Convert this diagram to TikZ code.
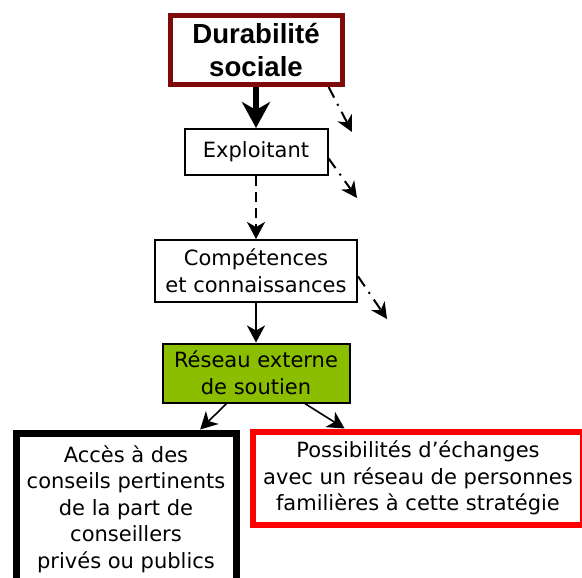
\documentclass[tikz,border=0pt]{standalone}
\usepackage{fontspec}
\setmainfont{DejaVu Sans}
\newfontfamily\titlefont{Liberation Sans}
\usetikzlibrary{arrows.meta}
\definecolor{darkred}{RGB}{128,10,10}
\definecolor{leafgreen}{RGB}{140,190,0}
\begin{document}
\begin{tikzpicture}[x=0.5pt,y=-0.5pt,
  box/.style={draw, align=center, inner sep=0pt, line width=1pt,
    font=\fontsize{10.5}{13.3}\selectfont},
  tip/.style={-{Stealth[length=8.5pt,width=9pt,inset=2.5pt]}, line width=1pt},
  side/.style={-{Stealth[length=8pt,width=8pt,inset=2.5pt]}, line width=1pt,
    dash pattern=on 6pt off 3.5pt on 1pt off 3.5pt}]
\clip (0,0) rectangle (582,577);
\node[box, draw=darkred, line width=2.5pt, minimum width=86pt, minimum height=34.5pt,
  font=\titlefont\fontsize{13.8}{16.5}\selectfont\bfseries] (durable) at (256,50) {Durabilité\\sociale};
\node[box, minimum width=71.5pt, minimum height=23pt] (exploit) at (256,152) {Exploitant};
\node[box, minimum width=101pt, minimum height=31pt] (skills) at (256,271) {Compétences\\et connaissances};
\node[box, fill=leafgreen, minimum width=93.5pt, minimum height=29.5pt] (network) at (256,373) {Réseau externe\\de soutien};
\node[box, line width=3.5pt, minimum width=110pt, minimum height=76pt] (advice) at (126,509) {Accès à des\\conseils pertinents\\de la part de\\conseillers\\privés ou publics};
\node[box, draw=red, line width=3pt, minimum width=165pt, minimum height=46.5pt] (exchange) at (418,478) {Possibilités d’échanges\\avec un réseau de personnes\\familières à cette stratégie};
\coordinate (out1) at (352,132);
\coordinate (out2) at (357,198);
\coordinate (out3) at (387,319);
\draw[-{Stealth[length=13pt,width=14pt,inset=4pt]}, line width=3pt] (durable) -- (exploit);
\draw[tip, dash pattern=on 5pt off 3pt] (exploit) -- (skills);
\draw[tip] (skills) -- (network);
\draw[tip, line width=0.8pt] (network.-134) -- (advice.47);
\draw[tip, line width=0.8pt] (network.-32) -- (exchange.146);
\draw[side] (durable.-27) -- (out1);
\draw[side] (exploit.-5) -- (out2);
\draw[side] (skills.-3) -- (out3);
\end{tikzpicture}
\end{document}
